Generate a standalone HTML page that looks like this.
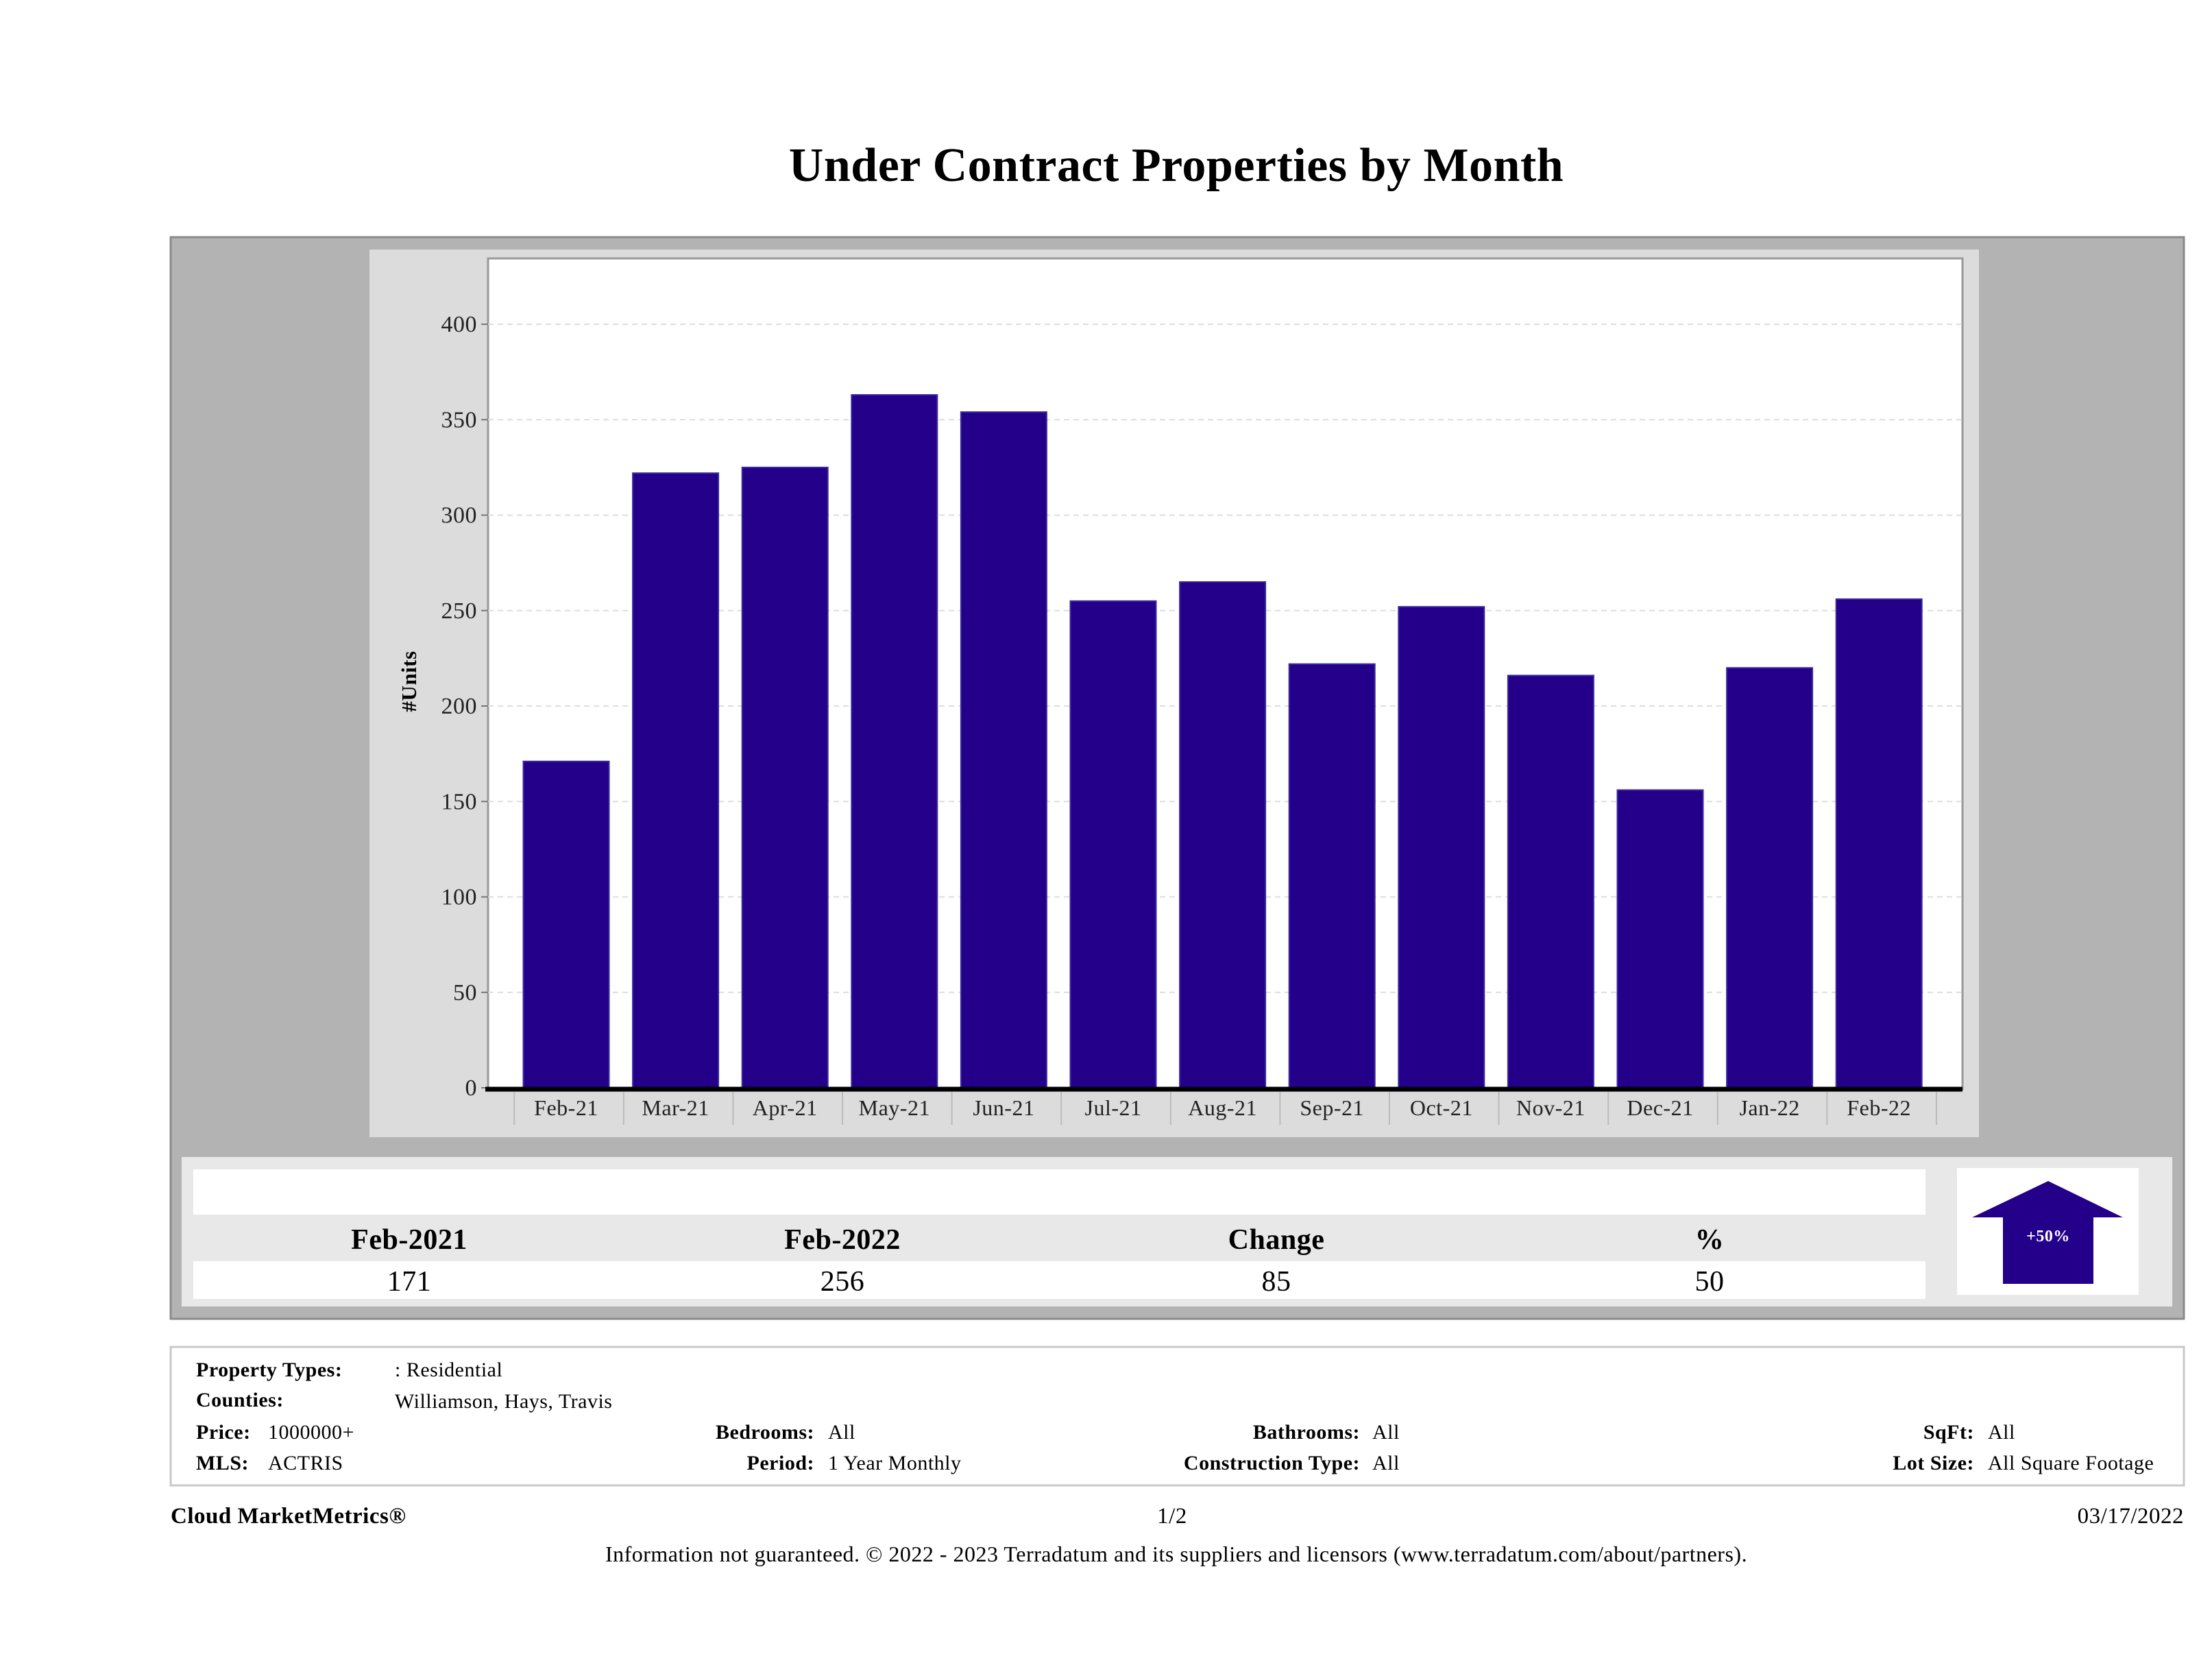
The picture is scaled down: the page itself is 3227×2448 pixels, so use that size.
<!DOCTYPE html>
<html><head><meta charset="utf-8"><style>
html,body{margin:0;padding:0;background:#fff;}
svg{display:block;font-family:"Liberation Serif",serif;letter-spacing:0.5px;}
</style></head><body>
<svg id="page" width="3227" height="2448" viewBox="0 0 3227 2448" xmlns="http://www.w3.org/2000/svg">
<text x="1716" y="264" text-anchor="middle" font-size="70" font-weight="bold" fill="#000">Under Contract Properties by Month</text>
<rect x="249" y="346" width="2937" height="1578" fill="#b3b3b3" stroke="#8a8a8a" stroke-width="3"/>
<rect x="539" y="364" width="2348" height="1295" fill="#dcdcdc"/>
<rect x="712" y="377" width="2151" height="1212" fill="#fff" stroke="#999" stroke-width="3"/>
<g id="grid"></g>
<g id="yticks"></g>
<g id="bars"></g>
<g id="xticks"></g>
<text transform="translate(607,994) rotate(-90)" text-anchor="middle" font-size="31" font-weight="bold">#Units</text>

<rect x="265" y="1688" width="2904" height="218" fill="#e8e8e8"/>
<rect x="282" y="1706" width="2527" height="66" fill="#fff"/>
<rect x="282" y="1840" width="2527" height="55" fill="#fff"/>
<g font-size="42" text-anchor="middle">
<text x="597" y="1822" font-weight="bold">Feb-2021</text>
<text x="1229" y="1822" font-weight="bold">Feb-2022</text>
<text x="1862" y="1822" font-weight="bold">Change</text>
<text x="2494" y="1822" font-weight="bold">%</text>
<text x="597" y="1883">171</text>
<text x="1229" y="1883">256</text>
<text x="1862" y="1883">85</text>
<text x="2494" y="1883">50</text>
</g>
<rect x="2855" y="1704" width="265" height="185" fill="#fff"/>
<polygon points="2988,1723 3097,1776 3054,1776 3054,1873 2922,1873 2922,1776 2877,1776" fill="#24008a"/>
<text x="2988" y="1811" text-anchor="middle" font-size="24" font-weight="bold" fill="#fff">+50%</text>

<rect x="249" y="1965" width="2937" height="202" fill="#fff" stroke="#c8c8c8" stroke-width="3"/>
<g font-size="30">
<text x="286" y="2008" font-weight="bold">Property Types:</text>
<text x="576" y="2008">: Residential</text>
<text x="286" y="2052" font-weight="bold">Counties:</text>
<text x="576" y="2054">Williamson, Hays, Travis</text>
<text x="286" y="2099" font-weight="bold">Price:</text>
<text x="391" y="2099">1000000+</text>
<text x="286" y="2144" font-weight="bold">MLS:</text>
<text x="391" y="2144">ACTRIS</text>
<text x="1188" y="2099" font-weight="bold" text-anchor="end">Bedrooms:</text>
<text x="1208" y="2099">All</text>
<text x="1188" y="2144" font-weight="bold" text-anchor="end">Period:</text>
<text x="1208" y="2144">1 Year Monthly</text>
<text x="1984" y="2099" font-weight="bold" text-anchor="end">Bathrooms:</text>
<text x="2002" y="2099">All</text>
<text x="1984" y="2144" font-weight="bold" text-anchor="end">Construction Type:</text>
<text x="2002" y="2144">All</text>
<text x="2880" y="2099" font-weight="bold" text-anchor="end">SqFt:</text>
<text x="2900" y="2099">All</text>
<text x="2880" y="2144" font-weight="bold" text-anchor="end">Lot Size:</text>
<text x="2900" y="2144">All Square Footage</text>
</g>
<text x="249" y="2222" font-size="33" font-weight="bold">Cloud MarketMetrics®</text>
<text x="1710" y="2222" font-size="33" text-anchor="middle">1/2</text>
<text x="3186" y="2222" font-size="33" text-anchor="end">03/17/2022</text>
<text x="1716" y="2278" font-size="32" text-anchor="middle">Information not guaranteed. © 2022 - 2023 Terradatum and its suppliers and licensors (www.terradatum.com/about/partners).</text>
</svg>
<script>
const categories = ["Feb-21","Mar-21","Apr-21","May-21","Jun-21","Jul-21","Aug-21","Sep-21","Oct-21","Nov-21","Dec-21","Jan-22","Feb-22"];
const units = [171,322,325,363,354,255,265,222,252,216,156,220,256];
const yTicks = [0,50,100,150,200,250,300,350,400];

const NS = "http://www.w3.org/2000/svg";
const y0 = 1587, pxPerUnit = (1587 - 473) / 400;
const plotL = 712, plotR = 2863;
const c0 = 826, step = 159.6, bw = 125;
function yScale(v){ return y0 - v * pxPerUnit; }
function xScale(i){ return c0 + i * step; }
function mk(tag, attrs){ const e = document.createElementNS(NS, tag); for (const k in attrs) e.setAttribute(k, attrs[k]); return e; }

const grid = document.getElementById('grid');
const yt = document.getElementById('yticks');
yTicks.forEach(t => {
  const y = yScale(t);
  if (t > 0) {
    const g = mk('line', {x1: plotL, x2: plotR, y1: y, y2: y, stroke: '#ddd', 'stroke-width': 2, 'stroke-dasharray': '8,6'});
    
    
    grid.appendChild(g);
  }
  const tk = mk('line', {x1: plotL - 10, x2: plotL, y1: y, y2: y, stroke: '#777', 'stroke-width': 2});
  
  
  yt.appendChild(tk);
  const tx = mk('text', {x: plotL - 16, y: y + 11, 'text-anchor': 'end', 'font-size': 34, fill: '#222'});
  tx.textContent = t;
  
  
  yt.appendChild(tx);
});

const bars = document.getElementById('bars');
categories.forEach((c, i) => {
  const v = units[i];
  const r = mk('rect', {x: xScale(i) - bw / 2, y: yScale(v), width: bw, height: y0 - yScale(v), fill: '#24008a', stroke: '#3a2aa0', 'stroke-width': 2});
  
  
  bars.appendChild(r);
});

const xt = document.getElementById('xticks');
const axis = mk('line', {x1: plotL - 4, x2: plotR, y1: y0 + 2, y2: y0 + 2, stroke: '#000', 'stroke-width': 7});


xt.appendChild(axis);
categories.forEach((c, i) => {
  const sep = mk('line', {x1: xScale(i) - step / 2 + 4, x2: xScale(i) - step / 2 + 4, y1: y0 + 6, y2: y0 + 54, stroke: '#bbb', 'stroke-width': 2});
  
  
  xt.appendChild(sep);
  const tx = mk('text', {x: xScale(i), y: y0 + 40, 'text-anchor': 'middle', 'font-size': 32, fill: '#222'});
  tx.textContent = c;
  
  
  xt.appendChild(tx);
});
const last = mk('line', {x1: xScale(categories.length) - step / 2 + 4, x2: xScale(categories.length) - step / 2 + 4, y1: y0 + 6, y2: y0 + 54, stroke: '#bbb', 'stroke-width': 2});


xt.appendChild(last);
</script>
</body></html>
